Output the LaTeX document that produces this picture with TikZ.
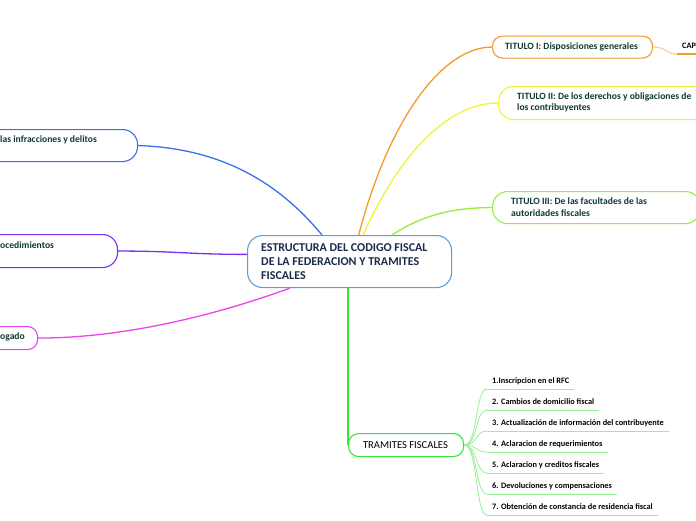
\documentclass[tikz,border=0pt]{standalone}
\usepackage{fontspec}
\setmainfont{Carlito}
\usetikzlibrary{calc}
\definecolor{cborder}{HTML}{5AA0DC}
\definecolor{ctext}{HTML}{1C2B4C}
\definecolor{ttext}{HTML}{0F3B30}
\definecolor{bblue}{HTML}{3A70F0}
\definecolor{bpurple}{HTML}{7A30F0}
\definecolor{bmagenta}{HTML}{E845EC}
\definecolor{borange}{HTML}{F39C28}
\definecolor{lorange}{HTML}{F8D39A}
\definecolor{byellow}{HTML}{F2F23A}
\definecolor{blime}{HTML}{98EE3C}
\definecolor{bgreen}{HTML}{36E636}
\definecolor{lgreen}{HTML}{96F096}
\begin{document}
\begin{tikzpicture}[x=1pt,y=-1pt,
  boxbase/.style={draw=#1, line width=1.1pt, fill=white, rectangle, inner sep=0pt, anchor=north west},
  ttl/.style={font=\bfseries\fontsize{9.6}{11.5}\selectfont, text=ttext, align=left, inner sep=0pt, anchor=west},
  branch/.style={line width=1.3pt, draw=#1},
  subitem/.style={font=\bfseries\fontsize{8.3}{9}\selectfont, text=black, inner xsep=5pt, inner ysep=3.5pt, text height=5.5pt, text depth=1.5pt, anchor=south west},
  subline/.style={line width=0.8pt, draw=lgreen},
  uline/.style={line width=1pt, draw=lgreen}]
\useasboundingbox (0,0) rectangle (696,520);
\fill[white] (0,0) rectangle (696,520);

% left branches
\node[boxbase=bblue, rounded corners=15pt, minimum width=200pt, minimum height=32pt] (b4) at (-63,129) {};
\node[ttl] (b4t) at (0,140) {las infracciones y delitos};
\node[boxbase=bpurple, rounded corners=15pt, minimum width=180pt, minimum height=33pt] (b5) at (-63,234) {};
\node[ttl] (b5t) at (0,245) {ocedimientos};
\node[boxbase=bmagenta, rounded corners=10pt, minimum width=80pt, minimum height=23pt] (b6) at (-43,326) {};
\node[ttl] (b6t) at (0,337) {ogado};

% right branches
\node[boxbase=borange, rounded corners=10pt, minimum width=160pt, minimum height=22pt] (t1) at (492,35.5) {};
\node[ttl] (t1t) at (505,47) {TITULO I: Disposiciones generales};
\node[boxbase=byellow, rounded corners=15pt, minimum width=220pt, minimum height=33pt] (t2) at (498,86) {};
\node[ttl] (t2t) at (517,102.5) {TITULO II: De los derechos y obligaciones de\\los contribuyentes};
\node[boxbase=blime, rounded corners=15pt, minimum width=208pt, minimum height=32pt] (t3) at (492,191) {};
\node[ttl] (t3t) at (511,207) {TITULO III: De las facultades de las\\autoridades fiscales};

% centre
\node[boxbase=cborder, rounded corners=15pt, minimum width=204pt, minimum height=52pt] (c) at (247,235) {};
\node[font=\bfseries\fontsize{12}{14}\selectfont, text=ctext, align=left, inner sep=0pt, anchor=west] (ct) at (261,262) {ESTRUCTURA DEL CODIGO FISCAL\\DE LA FEDERACION Y TRAMITES\\FISCALES};

% tramites
\node[boxbase=bgreen, rounded corners=10pt, minimum width=115pt, minimum height=23pt] (tr) at (348,433) {};
\node[font=\fontsize{10.6}{11}\selectfont, text=black, inner sep=0pt] (trt) at (405.5,445) {TRAMITES FISCALES};

% CAP
\node[font=\bfseries\fontsize{8.3}{9}\selectfont, text=black, inner xsep=5pt, inner ysep=3.5pt, text height=5.5pt, text depth=1.5pt, anchor=south west] (cap) at (677,54) {CAP};

% sub items
\node[subitem] (i1) at (487,389) {1.Inscripcion en el RFC};
\node[subitem] (i2) at (487,410) {2. Cambios de domicilio fiscal};
\node[subitem] (i3) at (487,431) {3. Actualización de información del contribuyente};
\node[subitem] (i4) at (487,452) {4. Aclaracion de requerimientos};
\node[subitem] (i5) at (487,473) {5. Aclaracion y creditos fiscales};
\node[subitem] (i6) at (487,494) {6. Devoluciones y compensaciones};
\node[subitem] (i7) at (487,515) {7. Obtención de constancia de residencia fiscal};

% connectors
\draw[branch=bblue] (b4.east) .. controls +(95,3) and +(-35,-42) .. (c.136);
\draw[branch=bpurple] (b5.east) .. controls +(60,0) and +(-60,0) .. (c.176);
\draw[branch=bmagenta] (b6.east) .. controls +(95,0) and +(-60,22) .. (c.204);
\draw[branch=borange] (c.71) .. controls +(30,-115) and +(-50,0) .. (t1.west);
\draw[branch=byellow] (c.63) .. controls +(38,-85) and +(-48,0) .. (t2.west);
\draw[branch=blime] (c.32) .. controls +(30,-20) and +(-38,0) .. (t3.west);
\draw[branch=bgreen] (tr.west |- c.south) -- (tr.west);
\draw[line width=1.2pt, draw=lorange] (t1.east) .. controls +(14,0) and +(-12,0) .. (cap.south west);
\draw[line width=1.6pt, draw=borange] (cap.south west) -- (cap.south east);

\foreach \i in {1,...,7}{
  \draw[subline] (tr.east) .. controls +(14,0) and +(-12,0) .. (i\i.south west);
  \draw[uline] (i\i.south west) -- (i\i.south east);
}
\end{tikzpicture}
\end{document}
